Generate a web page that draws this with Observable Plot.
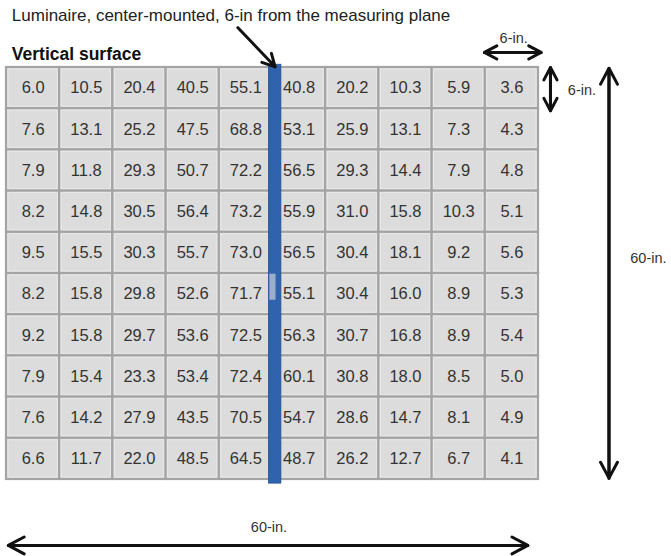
<!DOCTYPE html>
<html><head><meta charset="utf-8">
<script src="https://cdn.jsdelivr.net/npm/d3@7"></script>
<script src="https://cdn.jsdelivr.net/npm/@observablehq/plot@0.6"></script>
<style>body{margin:0;background:#fff}</style>
</head><body><div id="chart"></div>
<script>
// Illuminance readings, rows top→bottom, columns left→right (6-in cells)
const readings = [
  [6.0, 10.5, 20.4, 40.5, 55.1, 40.8, 20.2, 10.3, 5.9, 3.6],
  [7.6, 13.1, 25.2, 47.5, 68.8, 53.1, 25.9, 13.1, 7.3, 4.3],
  [7.9, 11.8, 29.3, 50.7, 72.2, 56.5, 29.3, 14.4, 7.9, 4.8],
  [8.2, 14.8, 30.5, 56.4, 73.2, 55.9, 31.0, 15.8, 10.3, 5.1],
  [9.5, 15.5, 30.3, 55.7, 73.0, 56.5, 30.4, 18.1, 9.2, 5.6],
  [8.2, 15.8, 29.8, 52.6, 71.7, 55.1, 30.4, 16.0, 8.9, 5.3],
  [9.2, 15.8, 29.7, 53.6, 72.5, 56.3, 30.7, 16.8, 8.9, 5.4],
  [7.9, 15.4, 23.3, 53.4, 72.4, 60.1, 30.8, 18.0, 8.5, 5.0],
  [7.6, 14.2, 27.9, 43.5, 70.5, 54.7, 28.6, 14.7, 8.1, 4.9],
  [6.6, 11.7, 22.0, 48.5, 64.5, 48.7, 26.2, 12.7, 6.7, 4.1]
];
const cellSize = 6;       // inches
const surfaceSize = 60;   // inches
const titleText = "Luminaire, center-mounted, 6-in from the measuring plane";
const surfaceLabel = "Vertical surface";
const dimLabels = ["6-in.", "6-in.", "60-in.", "60-in."];

// flat table of cells in inch coordinates
const cells = readings.flatMap((row, r) => row.map((v, c) => ({
  x1: c * cellSize, x2: (c + 1) * cellSize,
  y1: r * cellSize, y2: (r + 1) * cellSize, v
})));

// luminaire strip (inches)
const strip = [{x1: 29.6, x2: 31.0, y1: -0.4, y2: 60.6}];
const stripMark = [{x1: 29.7, x2: 30.4, y1: 30.1, y2: 33.9}];

// pointer arrow (inches)
const pointer = [{x1: 26.1, y1: -5.8, x2: 30.3, y2: -0.1}];
// double-headed dimension arrows (inches)
const smallDims = [
  {x1: 53.9, y1: -2.2, x2: 60.3, y2: -2.2},
  {x1: 61.35, y1: 0.0, x2: 61.35, y2: 6.3}
];
const bigDims = [
  {x1: 67.95, y1: 0.1, x2: 67.95, y2: 59.8},
  {x1: 0.2, y1: 69.6, x2: 58.8, y2: 69.6}
];
const rev = a => a.map(d => ({x1: d.x2, y1: d.y2, x2: d.x1, y2: d.y1}));
const labels = [
  {x: 57.2, y: -4.3, t: dimLabels[0]},
  {x: 64.9, y: 3.3, t: dimLabels[1]},
  {x: 72.4, y: 27.8, t: dimLabels[2]},
  {x: 29.6, y: 67.0, t: dimLabels[3]}
];

const font = "Liberation Sans, Arial, sans-serif";
const arrowOpts = h => ({x1: "x1", y1: "y1", x2: "x2", y2: "y2", stroke: "#111", strokeWidth: 3, headLength: h, headAngle: 56});

const chart = Plot.plot({
  width: 671, height: 556,
  marginLeft: 6, marginRight: 133, marginTop: 67, marginBottom: 77,
  x: {domain: [0, surfaceSize], axis: null},
  y: {domain: [surfaceSize, 0], axis: null},
  style: {fontFamily: font, background: "#fff", overflow: "visible"},
  marks: [
    Plot.rect(cells, {x1: "x1", x2: "x2", y1: "y1", y2: "y2", fill: "#dcdcdc", stroke: "#a4a4a4", strokeWidth: 2.2}),
    Plot.rect(cells, {x1: "x1", x2: "x2", y1: "y1", y2: "y2", fill: "none", stroke: "#e8e8e8", strokeWidth: 1, inset: 2}),
    Plot.text(cells, {x: d => (d.x1 + d.x2) / 2, y: d => (d.y1 + d.y2) / 2, text: d => d.v.toFixed(1),
      fill: "#333", fontSize: 16.5, fontFamily: font}),
    Plot.rect(strip, {x1: "x1", x2: "x2", y1: "y1", y2: "y2", fill: "#2f63ad", stroke: "#25508f", strokeWidth: 0.8}),
    Plot.rect(stripMark, {x1: "x1", x2: "x2", y1: "y1", y2: "y2", fill: "#9aaecb"}),
    Plot.arrow(pointer, arrowOpts(7)),
    Plot.arrow(smallDims, arrowOpts(7)),
    Plot.arrow(rev(smallDims), arrowOpts(7)),
    Plot.arrow(bigDims, arrowOpts(9)),
    Plot.arrow(rev(bigDims), arrowOpts(9)),
    Plot.text(labels, {x: "x", y: "y", text: "t", textAnchor: "middle", fill: "#333", fontSize: 14.5, fontFamily: font}),
    Plot.text([titleText], {x: 0.6, y: -7.6, text: d => d, textAnchor: "start", fill: "#222", fontSize: 17, fontFamily: font}),
    Plot.text([surfaceLabel], {x: 0.6, y: -1.95, text: d => d, textAnchor: "start", fill: "#111", fontSize: 17.5, fontWeight: "bold", fontFamily: font})
  ]
});
document.getElementById("chart").append(chart);
</script></body></html>
